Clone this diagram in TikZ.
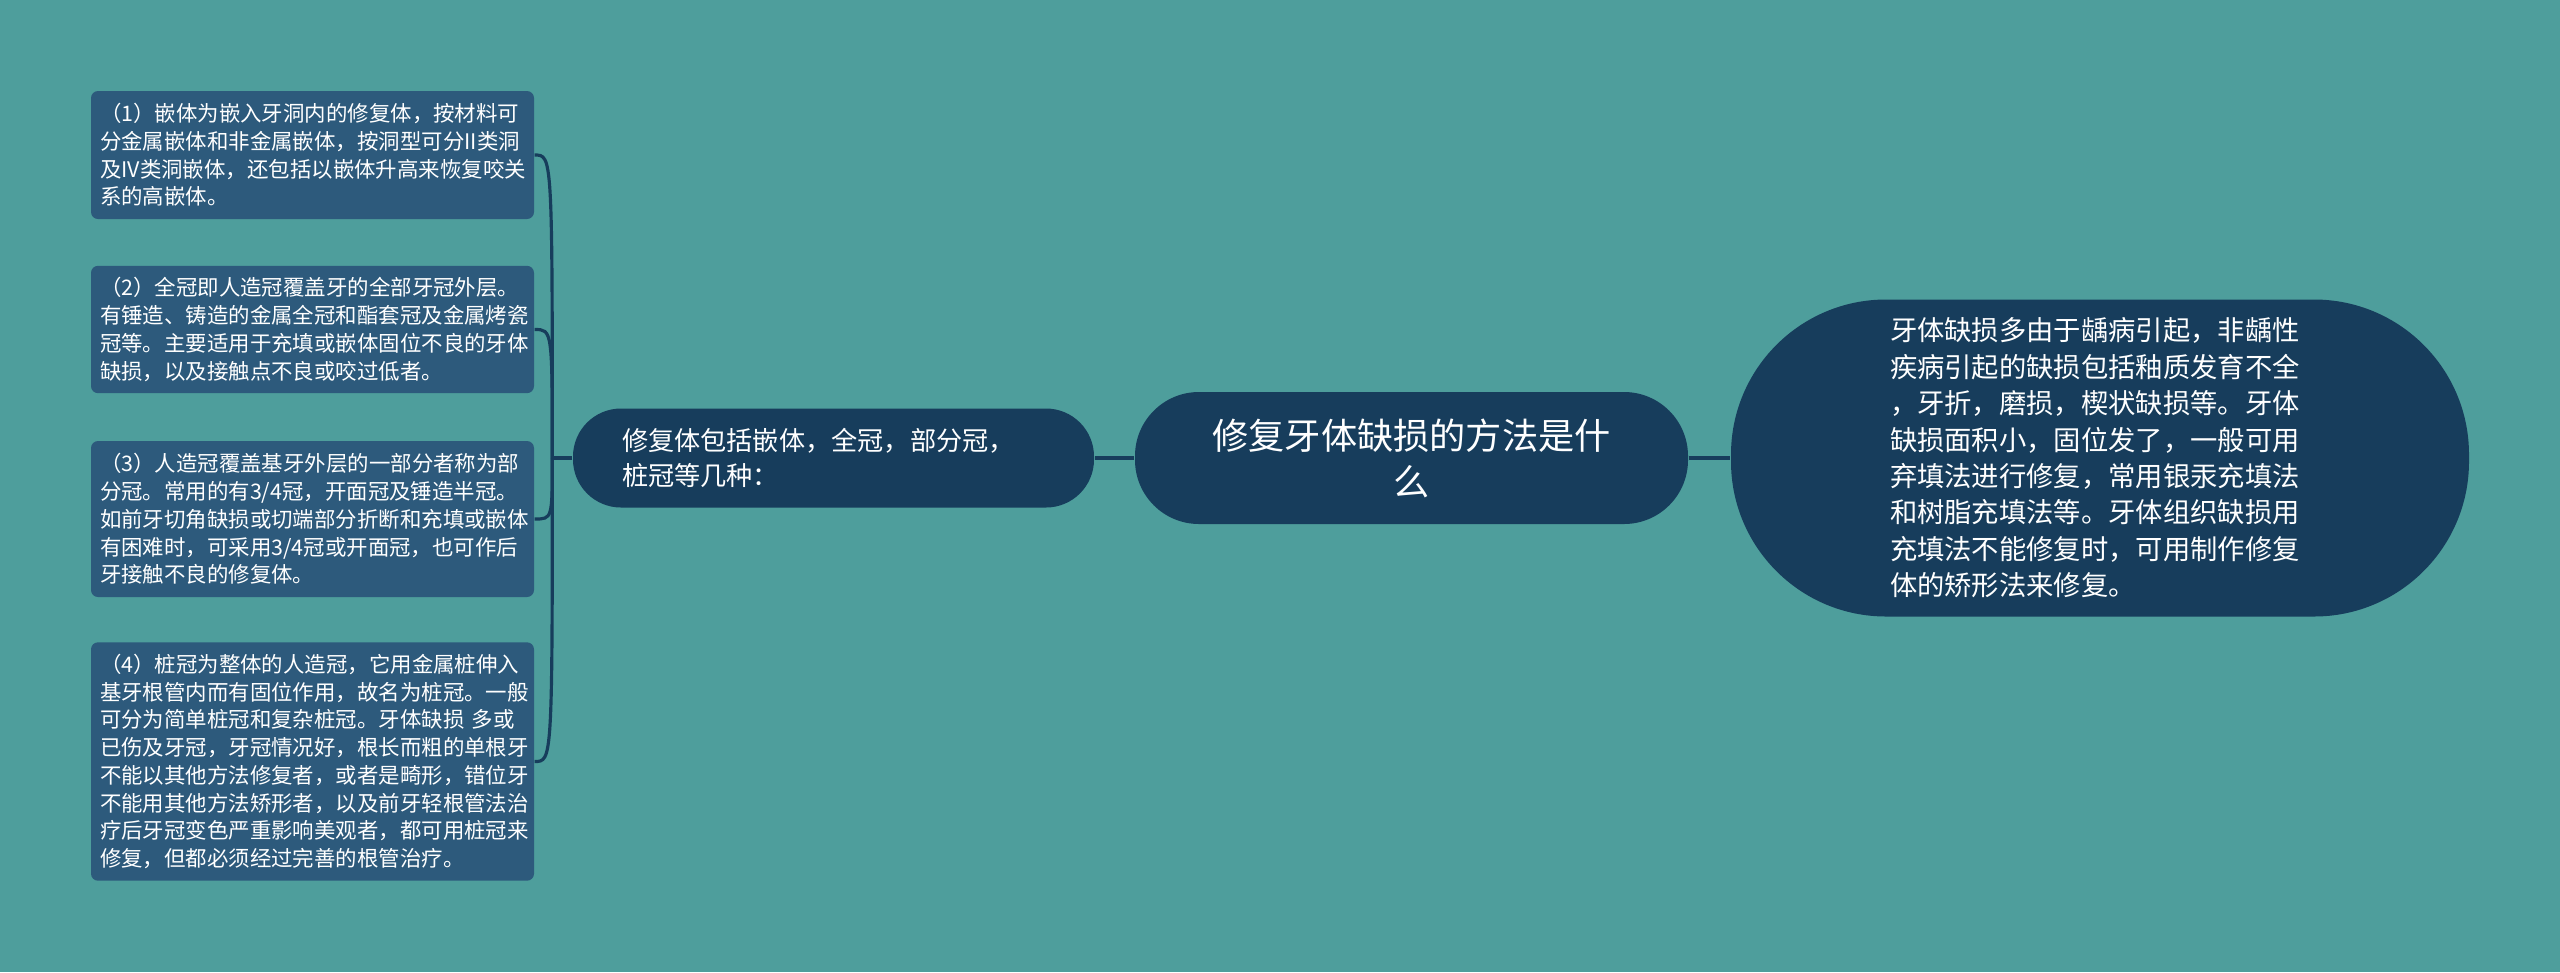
\documentclass[tikz,border=0pt]{standalone}
\usepackage{fontspec}
\setmainfont{Noto Sans CJK SC}
\usepackage{tikz}
\usepackage{color}
\usetikzlibrary{positioning}
\definecolor{bgteal}{HTML}{4E9E9C}
\definecolor{nodeblue}{HTML}{173D5C}
\definecolor{leafblue}{HTML}{2D5A7C}
\begin{document}
\begin{tikzpicture}[node distance=2cm,on grid,
    topic/.style={fill=nodeblue,text=white,rounded corners=0.64cm,minimum width=5.53cm,minimum height=1.32cm,align=center,font=\fontsize{10.3pt}{13.1pt}\selectfont},
    branch/.style={fill=nodeblue,text=white,rounded corners=0.48cm,minimum height=0.99cm,text width=4.23cm,inner xsep=0.49cm,align=left,font=\fontsize{7.45pt}{9.96pt}\selectfont},
    note/.style={fill=nodeblue,text=white,rounded corners=1.55cm,minimum width=7.38cm,minimum height=3.17cm,text width=4.2cm,align=left,font=\fontsize{7.77pt}{10.36pt}\selectfont},
    leaf/.style={fill=leafblue,text=white,rounded corners=0.07cm,text width=4.25cm,inner xsep=0.09cm,align=left,font=\fontsize{6.1pt}{7.9pt}\selectfont},
    link/.style={draw=nodeblue,line width=0.9pt},
    bracket/.style={to path={.. controls (\tikztostart |- \tikztotarget) .. (\tikztotarget)}}]
                      \fill[bgteal] (0,0) rectangle (25.6,-9.72);
                      \node[topic] (root) at (14.115,-4.58) {修复牙体缺损的方法是什\\么};
                      \node[branch] (sub) [left=5.78cm of root] {修复体包括嵌体，全冠，部分冠，\\桩冠等几种：};
                      \node[note] (info) [right=6.885cm of root] {牙体缺损多由于龋病引起，非龋性\\疾病引起的缺损包括釉质发育不全\\，牙折，磨损，楔状缺损等。牙体\\缺损面积小，固位发了，一般可用\\弃填法进行修复，常用银汞充填法\\和树脂充填法等。牙体组织缺损用\\充填法不能修复时，可用制作修复\\体的矫形法来修复。};
                      \node[leaf,minimum height=1.28cm] (b1) [above left=3.03cm and 5.21cm of sub] {（1）嵌体为嵌入牙洞内的修复体，按材料可\\分金属嵌体和非金属嵌体，按洞型可分II类洞\\及IV类洞嵌体，还包括以嵌体升高来恢复咬关\\系的高嵌体。};
                      \node[leaf,minimum height=1.27cm] (b2) [above left=1.285cm and 5.21cm of sub] {（2）全冠即人造冠覆盖牙的全部牙冠外层。\\有锤造、铸造的金属全冠和酯套冠及金属烤瓷\\冠等。主要适用于充填或嵌体固位不良的牙体\\缺损，以及接触点不良或咬过低者。};
                      \node[leaf,minimum height=1.56cm] (b3) [below left=0.61cm and 5.21cm of sub] {（3）人造冠覆盖基牙外层的一部分者称为部\\分冠。常用的有3/4冠，开面冠及锤造半冠。\\如前牙切角缺损或切端部分折断和充填或嵌体\\有困难时，可采用3/4冠或开面冠，也可作后\\牙接触不良的修复体。};
                      \node[leaf,minimum height=2.37cm] (b4) [below left=3.035cm and 5.21cm of sub] {（4）桩冠为整体的人造冠，它用金属桩伸入\\基牙根管内而有固位作用，故名为桩冠。一般\\可分为简单桩冠和复杂桩冠。牙体缺损 多或\\已伤及牙冠，牙冠情况好，根长而粗的单根牙\\不能以其他方法修复者，或者是畸形，错位牙\\不能用其他方法矫形者，以及前牙轻根管法治\\疗后牙冠变色严重影响美观者，都可用桩冠来\\修复，但都必须经过完善的根管治疗。};
                      \coordinate[left=0.2cm of sub.west] (fork);
                      \path[link]
                      (root) edge (sub)
                      edge (info)
                      (sub) edge (fork)
                      (fork) edge[bracket] (b1.east)
                      edge[bracket] (b2.east)
                      edge[bracket] (b3.east)
                      edge[bracket] (b4.east);
                  \end{tikzpicture}
\end{document}
